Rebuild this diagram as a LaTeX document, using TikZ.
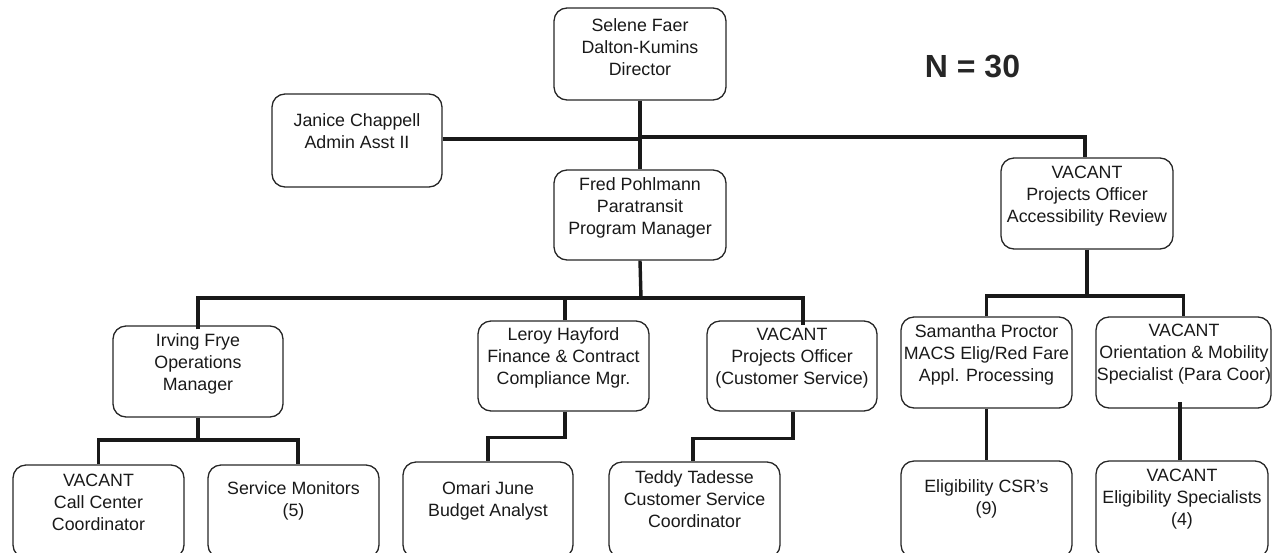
\documentclass[tikz,border=0pt]{standalone}
\usepackage{fontspec}
\setmainfont{Liberation Sans}
\tikzset{
  box/.style={draw=black!85, line width=1.3pt, rounded corners=13pt, inner sep=0pt},
  lbl/.style={align=center, inner sep=0pt, text=black!90, font=\fontsize{17.8}{22}\selectfont},
  conn/.style={draw=black!90, line width=3.4pt},
}
\newcommand{\orgbox}[6]{%
  \node[box, minimum width={#3-#2}, minimum height={#5-#4}] (#1) at ({(#2+#3)/2},{(#4+#5)/2}) {};}
\begin{document}
\begin{tikzpicture}[x=1pt,y=-1pt]
\useasboundingbox (0,0) rectangle (1273,552);
\clip (0,0) rectangle (1273,552);
% boxes
\orgbox{dir}{554}{726}{8}{100}{}
\orgbox{jan}{272}{442}{94}{187}{}
\orgbox{fred}{554}{726}{170}{260}{}
\orgbox{acc}{1001}{1173}{158}{249}{}
\orgbox{irv}{113}{283}{326}{417}{}
\orgbox{ler}{478}{649}{321}{411}{}
\orgbox{vcs}{707}{877}{321}{411}{}
\orgbox{sam}{901}{1072}{317}{408}{}
\orgbox{ori}{1096}{1271}{317}{408}{}
\orgbox{cal}{13}{184}{465}{558}{}
\orgbox{svc}{208}{379}{465}{558}{}
\orgbox{oma}{403}{573}{462}{558}{}
\orgbox{ted}{609}{780}{462}{558}{}
\orgbox{csr}{901}{1072}{461}{558}{}
\orgbox{esp}{1096}{1268}{461}{558}{}
% labels
\node[lbl] (dirT) at (640,47) {Selene Faer\\Dalton-Kumins\\Director};
\node[lbl] (janT) at (357,131.5) {Janice Chappell\\Admin Asst II};
\node[lbl] (fredT) at (640,208) {Fred Pohlmann\\Paratransit\\Program Manager};
\node[lbl] (accT) at (1087,196) {VACANT\\Projects Officer\\Accessibility Review};
\node[lbl] (irvT) at (198,364) {Irving Frye\\Operations\\Manager};
\node[lbl] (lerT) at (563.5,358) {Leroy Hayford\\Finance \& Contract\\Compliance Mgr.};
\node[lbl] (vcsT) at (792,358) {VACANT\\Projects Officer\\(Customer Service)};
\node[lbl] (samT) at (986.5,354.5) {Samantha Proctor\\MACS Elig/Red Fare\\Appl. Processing};
\node[lbl] (oriT) at (1184,354.5) {VACANT\\Orientation \& Mobility\\Specialist (Para Coor)};
\node[lbl] (calT) at (98.5,502) {VACANT\\Call Center\\Coordinator};
\node[lbl] (svcT) at (293.5,500.5) {Service Monitors\\(5)};
\node[lbl] (omaT) at (488,501) {Omari June\\Budget Analyst};
\node[lbl] (tedT) at (694.5,499.5) {Teddy Tadesse\\Customer Service\\Coordinator};
\node[lbl] (csrT) at (986.5,499) {Eligibility CSR's\\(9)};
\node[lbl] (espT) at (1182,499.5) {VACANT\\Eligibility Specialists\\(4)};
\node[inner sep=0pt, text=black!85, font=\fontsize{32}{36}\selectfont\bfseries] (n30) at (972.5,67) {N = 30};
% junctions
\coordinate (j1) at (640,137);
\coordinate (j2) at (641,298);
\coordinate (j3) at (198,440);
\coordinate (j4) at (1087,296);
% connectors
\draw[conn] (dir.south) -- (fred.north);
\draw[conn] (jan.east |- 0,139) -- (640,139);
\draw[conn] (j1) -| ([xshift=-2pt]acc.north);
\draw[conn] (fred.south) -- (j2);
\draw[conn] ([yshift=-4pt]irv.north) |- (j2) -| ([xshift=11pt,yshift=-5pt]vcs.north);
\draw[conn] ([xshift=1.5pt]ler.north) -- ([xshift=1.5pt]ler.north |- j2);
\draw[conn] (irv.south) -- (j3);
\draw[conn] (cal.north) |- (j3) -| ([xshift=4.5pt]svc.north);
\draw[conn] ([xshift=1.5pt]ler.south) -- ++(0,26) -| (oma.north);
\draw[conn] ([xshift=1pt]vcs.south) -- ++(0,27) -| ([xshift=-1.5pt]ted.north);
\draw[conn] (acc.south) -- (j4);
\draw[conn] (sam.north) |- (j4) -| (ori.north);
\draw[conn] (sam.south) -- (csr.north);
\draw[conn] ([xshift=-2pt]esp.north) -- ([xshift=-2pt,yshift=7pt]esp.north |- ori.south);
\end{tikzpicture}
\end{document}
